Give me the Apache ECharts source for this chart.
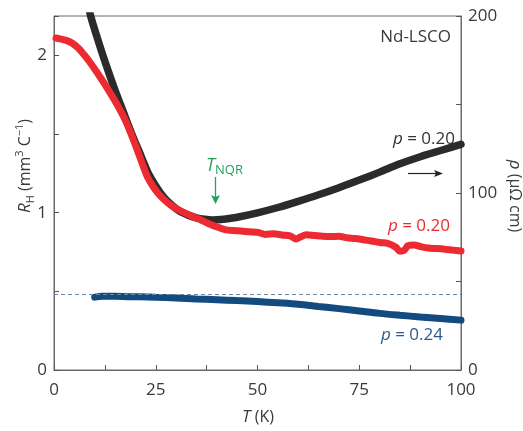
<!DOCTYPE html>
<html>
<head>
<meta charset="utf-8">
<script src="https://cdn.jsdelivr.net/npm/echarts@6/dist/echarts.min.js"></script>
<style>
html,body{margin:0;padding:0;background:#fff;}
#chart{width:523px;height:431px;}
</style>
</head>
<body>
<div id="chart"></div>
<script>
// ---- data ----
// Hall coefficient R_H, p = 0.20 (left axis, mm^3 C^-1)
const redT = [0.5,1.5,3,4.5,6,7.5,9,11,13,15,17,18.5,20,21.5,23,24.5,26,28,30,32,34,36,38,40,42,44,46,48,50,52,54,56,58,59.5,60.5,62,64,66,68,70,72,74,76,78,80,82,84,85,86,87,88.5,90,92,94,96,98,100];
const redR = [2.11,2.105,2.095,2.077,2.045,2.0,1.95,1.875,1.795,1.71,1.615,1.53,1.43,1.325,1.225,1.16,1.11,1.062,1.026,1.0,0.976,0.955,0.93,0.91,0.892,0.886,0.884,0.878,0.875,0.862,0.866,0.858,0.852,0.832,0.845,0.86,0.855,0.85,0.848,0.85,0.84,0.836,0.828,0.82,0.81,0.805,0.78,0.755,0.76,0.79,0.795,0.785,0.775,0.772,0.768,0.762,0.757];
// Resistivity rho, p = 0.20 (right axis, µΩ cm)
const blackT = [8.5,9,11,13,15,17,19,21,23,25,27,29,31,33,35,37,39,41,43,45,50,55,60,65,70,75,80,85,90,95,100];
const blackRho = [206,200,185,171,158,146,134,123,112,104,97.5,93,89.5,87.5,86,85.2,84.8,85,85.6,86.3,88.8,91.8,95.3,99,103,107.3,111.8,116.5,120.5,124,127.5];
// Hall coefficient R_H, p = 0.24 (left axis)
const blueT = [10,12,15,18,21,25,30,35,40,45,50,55,60,65,70,75,80,85,90,95,100];
const blueR = [0.463,0.468,0.468,0.466,0.465,0.462,0.458,0.452,0.447,0.441,0.435,0.427,0.418,0.404,0.39,0.375,0.36,0.348,0.337,0.327,0.317];
// dashed reference level
const dashedLevel = 0.48;
// tick labels
const xTickLabels = [0,25,50,75,100];
const leftTickLabels = [0,1,2];
const rightTickLabels = [0,100,200];

const zip = (a,b) => a.map((v,i) => [v,b[i]]);

const FONT = '"Open Sans", "Noto Sans", sans-serif';
const TXT = '#3a3a3a';

const chart = echarts.init(document.getElementById('chart'), null, {renderer:'canvas'});

const option = {
  animation: false,
  backgroundColor: '#fff',
  grid: {left: 54, right: 62, top: 16, bottom: 61, show: true, borderColor: '#6a6a6a', borderWidth: 1, containLabel: false, outerBoundsMode: 'none'},
  xAxis: {
    type: 'value', min: 0, max: 100, interval: 12.5,
    axisLine: {show: true, onZero: false, lineStyle: {color: '#6a6a6a', width: 1}},
    axisTick: {show: true, inside: true, length: 5, lineStyle: {color: '#555'}},
    splitLine: {show: false},
    axisLabel: {
      margin: 12, color: TXT, fontSize: 17, fontFamily: FONT, showMinLabel: true, showMaxLabel: true,
      formatter: v => xTickLabels.includes(v) ? String(v) : ''
    }
  },
  yAxis: [
    {
      type: 'value', min: 0, max: 2.25, interval: 0.5, position: 'left',
      axisLine: {show: true, onZero: false, lineStyle: {color: '#6a6a6a', width: 1}},
      axisTick: {show: true, inside: true, length: 5, lineStyle: {color: '#555'}},
      splitLine: {show: false},
      axisLabel: {
        margin: 7, color: TXT, fontSize: 17, fontFamily: FONT, showMinLabel: true,
        formatter: v => leftTickLabels.includes(v) ? String(v) : ''
      }
    },
    {
      type: 'value', min: 0, max: 200, interval: 50, position: 'right',
      axisLine: {show: true, onZero: false, lineStyle: {color: '#6a6a6a', width: 1}},
      axisTick: {show: true, inside: true, length: 5, lineStyle: {color: '#555'}},
      splitLine: {show: false},
      axisLabel: {
        margin: 7, color: TXT, fontSize: 17, fontFamily: FONT, showMinLabel: true, showMaxLabel: true,
        formatter: v => rightTickLabels.includes(v) ? String(v) : ''
      }
    }
  ],
  series: [
    {
      name: 'dashed', type: 'line', yAxisIndex: 0, z: 4,
      data: [[0, dashedLevel],[100, dashedLevel]],
      showSymbol: false, symbol: 'none',
      lineStyle: {color: '#6d89a8', width: 1.2, type: [4,3]}
    },
    {
      name: 'p=0.24 RH', type: 'line', yAxisIndex: 0, z: 3,
      data: zip(blueT, blueR), showSymbol: false, symbol: 'none', smooth: 0.3,
      lineStyle: {color: '#134a7f', width: 7, cap: 'round'}
    },
    {
      name: 'p=0.20 rho', type: 'line', yAxisIndex: 1, z: 5, clip: true,
      data: zip(blackT, blackRho), showSymbol: false, symbol: 'none', smooth: 0.3,
      lineStyle: {color: '#2b2b2b', width: 7.5, cap: 'round'}
    },
    {
      name: 'p=0.20 RH', type: 'line', yAxisIndex: 0, z: 6,
      data: zip(redT, redR), showSymbol: false, symbol: 'none', smooth: 0.3,
      lineStyle: {color: '#ec2a31', width: 7, cap: 'round', join: 'round'}
    }
  ],
  graphic: [
    // Left axis name
    {
      type: 'text', x: 25, y: 166, rotation: Math.PI/2, z: 10,
      style: {
        text: '{i|R}{sub|H}{n| (mm}{sup|3}{n| C}{sup|−1}{n|)}',
        align: 'center', verticalAlign: 'middle', fill: TXT, fontFamily: FONT, fontSize: 16,
        rich: {
          i: {fontStyle: 'italic', fontSize: 17, fontFamily: FONT, fill: TXT, lineHeight: 22, verticalAlign: 'middle'},
          n: {fontSize: 16, fontFamily: FONT, fill: TXT, lineHeight: 22, verticalAlign: 'middle'},
          sub: {fontSize: 11, fontFamily: FONT, fill: TXT, lineHeight: 11, verticalAlign: 'bottom'},
          sup: {fontSize: 11, fontFamily: FONT, fill: TXT, lineHeight: 11, verticalAlign: 'top'}
        }
      }
    },
    // Right axis name
    {
      type: 'text', x: 515, y: 196, rotation: -Math.PI/2, z: 10,
      style: {
        text: '{i|ρ}{n| (μΩ cm)}',
        align: 'center', verticalAlign: 'middle', fill: TXT, fontFamily: FONT, fontSize: 16,
        rich: {
          i: {fontStyle: 'italic', fontSize: 17, fontFamily: FONT, fill: TXT},
          n: {fontSize: 16, fontFamily: FONT, fill: TXT}
        }
      }
    },
    // Bottom axis name
    {
      type: 'text', x: 258, y: 417, z: 10,
      style: {
        text: '{i|T}{n| (K)}',
        align: 'center', verticalAlign: 'middle', fill: TXT, fontFamily: FONT, fontSize: 16,
        rich: {
          i: {fontStyle: 'italic', fontSize: 17, fontFamily: FONT, fill: TXT},
          n: {fontSize: 16, fontFamily: FONT, fill: TXT}
        }
      }
    },
    // Nd-LSCO
    {
      type: 'text', x: 451, y: 37, z: 10,
      style: {text: 'Nd-LSCO', align: 'right', verticalAlign: 'middle', fill: TXT, fontFamily: FONT, fontSize: 17}
    },
    // p = 0.20 (black)
    {
      type: 'text', x: 455, y: 139, z: 10,
      style: {
        text: '{i|p}{n| = 0.20}', align: 'right', verticalAlign: 'middle', fontFamily: FONT, fontSize: 17,
        rich: {i: {fontStyle: 'italic', fontSize: 17, fontFamily: FONT, fill: '#333'}, n: {fontSize: 17, fontFamily: FONT, fill: '#333'}}
      }
    },
    // p = 0.20 (red)
    {
      type: 'text', x: 450, y: 226, z: 10,
      style: {
        text: '{i|p}{n| = 0.20}', align: 'right', verticalAlign: 'middle', fontFamily: FONT, fontSize: 17,
        rich: {i: {fontStyle: 'italic', fontSize: 17, fontFamily: FONT, fill: '#ec2a31'}, n: {fontSize: 17, fontFamily: FONT, fill: '#ec2a31'}}
      }
    },
    // p = 0.24 (blue)
    {
      type: 'text', x: 443, y: 335, z: 10,
      style: {
        text: '{i|p}{n| = 0.24}', align: 'right', verticalAlign: 'middle', fontFamily: FONT, fontSize: 17,
        rich: {i: {fontStyle: 'italic', fontSize: 17, fontFamily: FONT, fill: '#2b5a8c'}, n: {fontSize: 17, fontFamily: FONT, fill: '#2b5a8c'}}
      }
    },
    // arrow to the right (black)
    {type: 'line', z: 10, shape: {x1: 408, y1: 173.5, x2: 437, y2: 173.5}, style: {stroke: '#222', lineWidth: 1.2}},
    {type: 'polygon', z: 10, shape: {points: [[443,173.5],[434,170],[436,173.5],[434,177]]}, style: {fill: '#222'}},
    // T_NQR label
    {
      type: 'text', x: 206, y: 166, z: 10,
      style: {
        text: '{i|T}{sub|NQR}', align: 'left', verticalAlign: 'middle', fontFamily: FONT,
        rich: {
          i: {fontStyle: 'italic', fontSize: 18, fontFamily: FONT, fill: '#1fa35a', lineHeight: 22, verticalAlign: 'middle'},
          sub: {fontSize: 13, fontFamily: FONT, fill: '#1fa35a', lineHeight: 13, verticalAlign: 'bottom'}
        }
      }
    },
    {type: 'line', z: 10, shape: {x1: 215.5, y1: 177, x2: 215.5, y2: 197}, style: {stroke: '#1fa35a', lineWidth: 1.3}},
    {type: 'polygon', z: 10, shape: {points: [[215.5,204],[211,195],[215.5,197],[220,195]]}, style: {fill: '#1fa35a'}}
  ]
};
chart.setOption(option);
</script>
</body>
</html>
